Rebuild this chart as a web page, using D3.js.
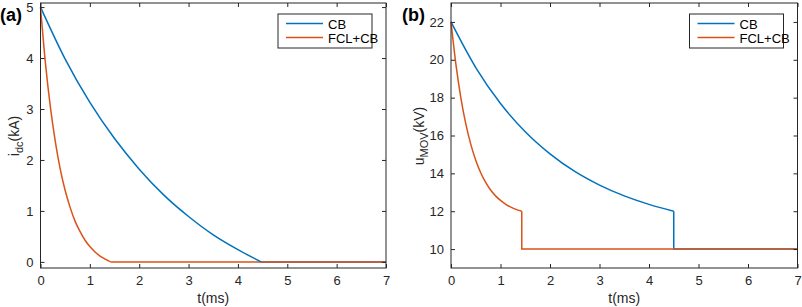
<!DOCTYPE html>
<html>
<head>
<meta charset="utf-8">
<script src="https://cdn.jsdelivr.net/npm/d3@7"></script>
<style>
  body { margin: 0; background: #fff; }
  svg { font-family: "Liberation Sans", Arial, sans-serif; }
</style>
</head>
<body>
<script>
// time samples (ms) and values
// (a) dc current, kA
var tCbA  = [0, 0.5, 1, 1.5, 2, 2.5, 3, 3.5, 4, 4.47];
var cbA   = [5, 3.98, 3.13, 2.42, 1.82, 1.31, 0.89, 0.53, 0.24, 0];
var tailCbA = [[4.47, 0], [7, 0]];
var tFclA = [0, 0.1, 0.2, 0.3, 0.4, 0.5, 0.6, 0.7, 0.8, 0.9, 1.0, 1.1, 1.2, 1.3, 1.42];
var fclA  = [5, 3.9, 3.04, 2.36, 1.82, 1.4, 1.07, 0.8, 0.6, 0.43, 0.3, 0.2, 0.12, 0.06, 0];
var tailFclA = [[1.42, 0], [7, 0]];

// (b) MOV voltage, kV
var tCbB  = [0, 0.5, 1, 1.5, 2, 2.5, 3, 3.5, 4, 4.5];
var cbB   = [22, 19.59, 17.69, 16.2, 15.03, 14.1, 13.38, 12.81, 12.36, 12.0];
var tailCbB = [[4.5, 12], [4.5, 10], [7, 10]];
var tFclB = [0, 0.1, 0.2, 0.3, 0.4, 0.5, 0.6, 0.7, 0.8, 0.9, 1.0, 1.1, 1.2, 1.3, 1.43];
var fclB  = [22, 19.74, 17.98, 16.6, 15.53, 14.69, 14.03, 13.52, 13.12, 12.81, 12.57, 12.38, 12.23, 12.11, 12.0];
var tailFclB = [[1.43, 12], [1.43, 10], [7, 10]];

var xTicks = [0, 1, 2, 3, 4, 5, 6, 7];
var yTicksA = [0, 1, 2, 3, 4, 5];
var yTicksB = [10, 12, 14, 16, 18, 20, 22];
var seriesNames = ["CB", "FCL+CB"];
var colors = ["#0072BD", "#D95319"];

var svg = d3.select("body").append("svg")
    .attr("width", 802)
    .attr("height", 307);

function zip(ts, vs) {
  return ts.map(function(t, i) { return {t: t, v: vs[i]}; });
}
function pairs(p) {
  return p.map(function(d) { return {t: d[0], v: d[1]}; });
}

// draws one panel
function panel(opt) {
  var x = d3.scaleLinear().domain([0, 7]).range([opt.left, opt.right]);
  var y = d3.scaleLinear().domain(opt.yDomain).range([268, 3]);

  var g = svg.append("g");

  var smooth = d3.line()
      .x(function(d) { return x(d.t); })
      .y(function(d) { return y(d.v); })
      .curve(d3.curveMonotoneX);
  var straight = d3.line()
      .x(function(d) { return x(d.t); })
      .y(function(d) { return y(d.v); });

  // tails first so the FCL+CB flat line sits on top, as in the figure
  opt.series.forEach(function(s, i) {
    g.append("path")
      .datum(s.tail)
      .attr("fill", "none")
      .attr("stroke", colors[i])
      .attr("stroke-width", 1.5)
      .attr("d", straight);
  });
  opt.series.forEach(function(s, i) {
    g.append("path")
      .datum(s.decay)
      .attr("fill", "none")
      .attr("stroke", colors[i])
      .attr("stroke-width", 1.5)
      .attr("d", smooth);
  });

  // axes (MATLAB style, ticks inside, mirrored)
  var axStyle = function(sel) {
    sel.selectAll(".domain").remove();
    sel.selectAll("line").attr("stroke", "#262626");
    sel.selectAll("text").attr("fill", "#262626").style("font-size", "13px");
  };
  g.append("g").attr("transform", "translate(0,268)")
    .call(d3.axisBottom(x).tickValues(xTicks).tickSize(-4).tickPadding(8).tickFormat(d3.format("d")))
    .call(axStyle);
  g.append("g").attr("transform", "translate(0,3)")
    .call(d3.axisTop(x).tickValues(xTicks).tickSize(-4).tickFormat(""))
    .call(axStyle);
  g.append("g").attr("transform", "translate(" + opt.left + ",0)")
    .call(d3.axisLeft(y).tickValues(opt.yTicks).tickSize(-4).tickPadding(7).tickFormat(d3.format("d")))
    .call(axStyle);
  g.append("g").attr("transform", "translate(" + opt.right + ",0)")
    .call(d3.axisRight(y).tickValues(opt.yTicks).tickSize(-4).tickFormat(""))
    .call(axStyle);

  g.append("rect")
    .attr("x", opt.left).attr("y", 3)
    .attr("width", opt.right - opt.left).attr("height", 265)
    .attr("fill", "none").attr("stroke", "#262626").attr("stroke-width", 1);

  // panel letter
  g.append("text")
    .attr("x", opt.letterX).attr("y", 21)
    .style("font-size", "18px").style("font-weight", "bold")
    .attr("fill", "#000")
    .text(opt.letter);

  // x label
  g.append("text")
    .attr("x", (opt.left + opt.right) / 2).attr("y", 303)
    .attr("text-anchor", "middle")
    .style("font-size", "14px").attr("fill", "#262626")
    .text("t(ms)");

  // y label with subscript
  var yl = g.append("text")
    .attr("transform", "translate(" + opt.yLabelX + ",136) rotate(-90)")
    .attr("text-anchor", "middle")
    .style("font-size", "14px").attr("fill", "#262626");
  yl.append("tspan").text(opt.yLabel[0]);
  yl.append("tspan").attr("dy", 4).style("font-size", "11px").text(opt.yLabel[1]);
  yl.append("tspan").attr("dy", -4).text(opt.yLabel[2]);

  // legend
  var lx = opt.right - 108;
  var lg = g.append("g");
  lg.append("rect")
    .attr("x", lx).attr("y", 14).attr("width", 94).attr("height", 34)
    .attr("fill", "#fff").attr("stroke", "#262626").attr("stroke-width", 1);
  seriesNames.forEach(function(n, i) {
    lg.append("line")
      .attr("x1", lx + 8).attr("x2", lx + 45)
      .attr("y1", 23.5 + i * 14).attr("y2", 23.5 + i * 14)
      .attr("stroke", colors[i]).attr("stroke-width", 1.5);
    lg.append("text")
      .attr("x", lx + 50).attr("y", 28.5 + i * 14)
      .style("font-size", "13px").attr("fill", "#000")
      .text(n);
  });
}

panel({
  left: 40.5, right: 386, yDomain: [-0.12, 5.08], yTicks: yTicksA,
  series: [
    {decay: zip(tCbA, cbA), tail: pairs(tailCbA)},
    {decay: zip(tFclA, fclA), tail: pairs(tailFclA)}
  ],
  letter: "(a)", letterX: 0, yLabel: ["i", "dc", "(kA)"], yLabelX: 19
});
panel({
  left: 451, right: 797.5, yDomain: [9, 23], yTicks: yTicksB,
  series: [
    {decay: zip(tCbB, cbB), tail: pairs(tailCbB)},
    {decay: zip(tFclB, fclB), tail: pairs(tailFclB)}
  ],
  letter: "(b)", letterX: 402, yLabel: ["u", "MOV", "(kV)"], yLabelX: 424
});
</script>
</body>
</html>
